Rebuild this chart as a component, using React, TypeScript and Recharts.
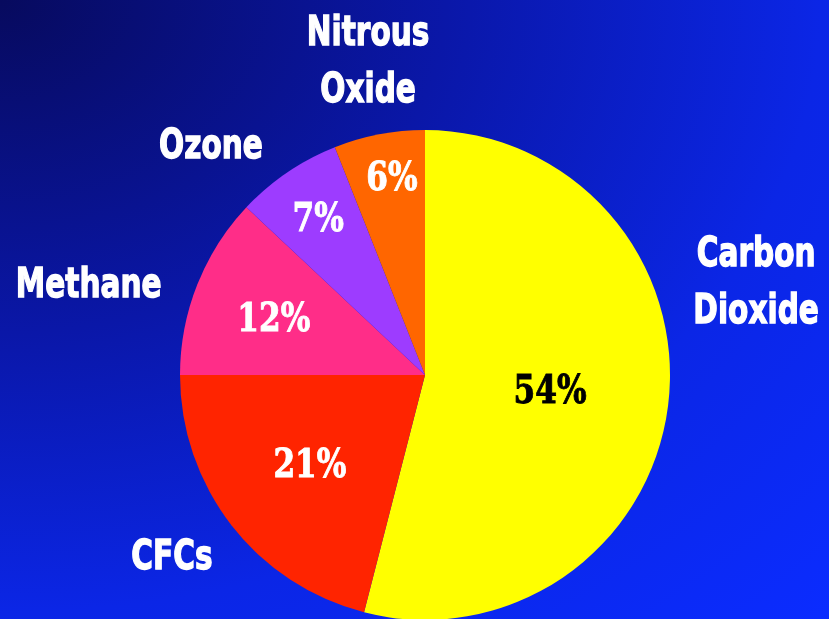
import React from 'react';
import { PieChart, Pie, Cell } from 'recharts';

// ---- data ----
const gases = ['Carbon Dioxide', 'CFCs', 'Methane', 'Ozone', 'Nitrous Oxide'];
const nameLines = [['Carbon', 'Dioxide'], ['CFCs'], ['Methane'], ['Ozone'], ['Nitrous', 'Oxide']];
const shares = [54, 21, 12, 7, 6];
const pctLabels = ['54%', '21%', '12%', '7%', '6%'];

// ---- style ----
const COLORS = ['#ffff00', '#ff2400', '#ff2d88', '#9d3cff', '#ff6600'];
const PCT_FILL = ['#000000', '#ffffff', '#ffffff', '#ffffff', '#ffffff'];
// [radius multiple of outerRadius, angle shift in degrees (clockwise)]
const PCT_PLACE = [[0.513, -1.3], [0.589, 0.7], [0.662, -0.3], [0.782, 0.3], [0.827, 1.4]];
const NAME_PLACE = [[1.406, -23.2], [1.267, 2.4], [1.424, -6.2], [1.288, -8.5], [1.311, 0.6]];
const LINE_H = 57;

const data = gases.map((g, i) => ({ name: g, value: shares[i] }));

const polar = (cx: number, cy: number, r: number, clockDeg: number) => {
  const a = (clockDeg * Math.PI) / 180;
  return { x: cx + r * Math.sin(a), y: cy - r * Math.cos(a) };
};

const renderLabel = (props: any) => {
  const { cx, cy, midAngle, outerRadius, index } = props;
  const clock = 90 - midAngle;
  const pp = PCT_PLACE[index];
  const np = NAME_PLACE[index];
  const pc = polar(cx, cy, outerRadius * pp[0], clock + pp[1]);
  const nc = polar(cx, cy, outerRadius * np[0], clock + np[1]);
  const lines = nameLines[index];
  const firstBase = nc.y - ((lines.length - 1) * LINE_H) / 2 + 14.6;
  return (
    <g>
      <g transform={`translate(${pc.x},${pc.y + 14.6}) scale(0.78,1)`}>
        <text
          x={0}
          y={0}
          textAnchor="middle"
          fill={PCT_FILL[index]}
          stroke={PCT_FILL[index]}
          strokeWidth={1}
          fontFamily="'DejaVu Serif', serif"
          fontWeight="bold"
          fontSize={40}
        >
          {pctLabels[index]}
        </text>
      </g>
      {lines.map((ln, k) => (
        <g key={k} transform={`translate(${nc.x},${firstBase + k * LINE_H}) scale(0.74,1)`}>
          <text
            x={0}
            y={0}
            textAnchor="middle"
            fill="#ffffff"
            stroke="#ffffff"
            strokeWidth={1.4}
            fontFamily="'DejaVu Sans', sans-serif"
            fontWeight="bold"
            fontSize={40}
          >
            {ln}
          </text>
        </g>
      ))}
    </g>
  );
};

export default function App() {
  return (
    <div
      style={{
        position: 'fixed',
        left: 0,
        top: 0,
        width: 829,
        height: 619,
        overflow: 'hidden',
        background:
          'radial-gradient(ellipse farthest-corner at 0% 0%, #070a5e 0%, #0a17a8 38%, #0b26e6 70%, #0b2cff 100%)',
      }}
    >
      <PieChart width={829} height={619} margin={{ top: 0, right: 0, bottom: 0, left: 0 }}>
        <Pie
          data={data}
          dataKey="value"
          nameKey="name"
          cx={425}
          cy={375}
          outerRadius={245}
          startAngle={90}
          endAngle={-270}
          stroke="none"
          label={renderLabel}
          labelLine={false}
          isAnimationActive={false}
        >
          {data.map((d, i) => (
            <Cell key={d.name} fill={COLORS[i]} />
          ))}
        </Pie>
      </PieChart>
    </div>
  );
}
